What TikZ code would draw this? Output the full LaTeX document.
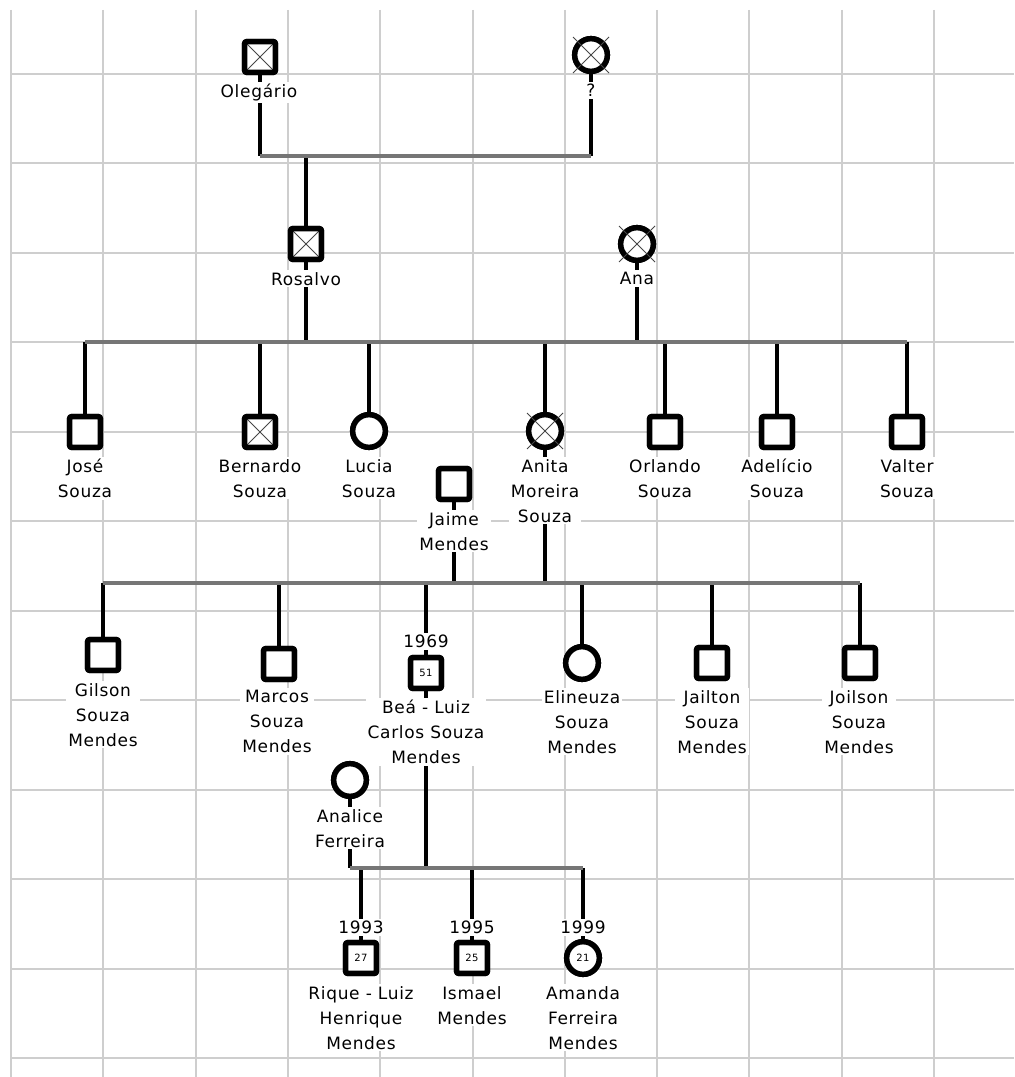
\documentclass[tikz,border=0pt]{standalone}
\usepackage{fontspec}
\newfontfamily\lblfont[LetterSpace=4]{DejaVu Sans}
\definecolor{gridc}{RGB}{206,206,206}
\definecolor{sibc}{RGB}{118,118,118}
\definecolor{xcol}{RGB}{70,70,70}
\tikzset{
  gridl/.style={gridc, line width=1.5pt},
  bline/.style={black, line width=3pt},
  gline/.style={sibc, line width=3pt},
  sq/.style={rectangle, draw, line width=4.1pt, fill=white, rounded corners=1.5pt, minimum size=23pt, inner sep=0pt},
  ci/.style={circle, draw, line width=4.1pt, fill=white, minimum size=24.5pt, inner sep=0pt},
  deadsq/.style={path picture={\draw[xcol, line width=0.75pt] (path picture bounding box.north west) -- (path picture bounding box.south east) (path picture bounding box.north east) -- (path picture bounding box.south west);}},
  xl/.style={xcol, line width=0.75pt},
  lbl/.style={font=\lblfont\fontsize{12.75pt}{18.75pt}\selectfont, align=center, fill=white, inner sep=1.5pt, anchor=north},
  age/.style={font=\lblfont\fontsize{7.5pt}{8pt}\selectfont}
}
\begin{document}
\begin{tikzpicture}[x=0.75pt,y=-0.75pt]
\useasboundingbox (0,0) rectangle (1014,1077);
\fill[white] (0,0) rectangle (1014,1077);
% grid
\foreach \i in {0,...,10} \draw[gridl] ({11+92.3*\i},10) -- ({11+92.3*\i},1077);
\foreach \j in {0,...,11} \draw[gridl] (11,{74+89.45*\j}) -- (1014,{74+89.45*\j});

% family line junctions
\coordinate (m1L) at (260,156); \coordinate (m1R) at (591,156); \coordinate (m1D) at (306,156);
\coordinate (s2L) at (85,342); \coordinate (s2R) at (907,342);
\coordinate (s2a) at (306,342); \coordinate (s2b) at (637,342);
\coordinate (s3L) at (103,583); \coordinate (s3R) at (860,583);
\coordinate (s3a) at (454,583); \coordinate (s3b) at (545,583);
\coordinate (s4L) at (350,868); \coordinate (s4R) at (583,868);
\coordinate (s4b) at (426,868);

% symbol positions
\node[sq,deadsq] (ole) at (260,57) {};
\node[ci] (qm) at (591,55) {};
\node[sq,deadsq] (ros) at (306,244) {};
\node[ci] (ana) at (637,244) {};
\node[sq] (jose) at (85,432) {};
\node[sq,deadsq] (bern) at (260,432) {};
\node[ci] (lucia) at (369,431) {};
\node[ci] (anita) at (545,431) {};
\node[sq] (orl) at (665,432) {};
\node[sq] (adel) at (777,432) {};
\node[sq] (valt) at (907,432) {};
\node[sq] (jaime) at (454,484) {};
\node[sq] (gil) at (103,655) {};
\node[sq] (mar) at (279,664) {};
\node[sq] (bea) at (426,673) {};
\node[ci] (elin) at (582,663) {};
\node[sq] (jail) at (712,663) {};
\node[sq] (joil) at (860,663) {};
\node[ci] (anal) at (350,780) {};
\node[sq] (riq) at (361,958) {};
\node[sq] (ism) at (472,958) {};
\node[ci] (ama) at (583,958) {};

% black connector lines
\draw[bline] (ole.south) -- (m1L);
\draw[bline] (qm.south) -- (m1R);
\draw[bline] (m1D) -- (ros.north);
\draw[bline] (ros.south) -- (s2a);
\draw[bline] (ana.south) -- (s2b);
\foreach \n in {jose,bern,lucia,anita,orl,adel,valt}
  \draw[bline] (\n.north |- s2L) -- (\n.north);
\draw[bline] (jaime.south) -- (s3a);
\draw[bline] (anita.south) -- (s3b);
\foreach \n in {gil,mar,bea,elin,jail,joil}
  \draw[bline] (\n.north |- s3L) -- (\n.north);
\draw[bline] (anal.south) -- (s4L);
\draw[bline] (bea.south) -- (s4b);
\foreach \n in {riq,ism,ama}
  \draw[bline] (\n.north |- s4L) -- (\n.north);

% grey couple / sibship lines
\draw[gline] (m1L) -- (m1R);
\draw[gline] (s2L) -- (s2R);
\draw[gline] (s3L) -- (s3R);
\draw[gline] (s4L) -- (s4R);

% symbols drawn again over the connector ends
\node[sq,deadsq] at (ole) {};
\node[ci] at (qm) {};
\node[sq,deadsq] at (ros) {};
\node[ci] at (ana) {};
\node[sq] at (jose) {};
\node[sq,deadsq] at (bern) {};
\node[ci] at (lucia) {};
\node[ci] at (anita) {};
\node[sq] at (orl) {};
\node[sq] at (adel) {};
\node[sq] at (valt) {};
\node[sq] at (jaime) {};
\node[sq] at (gil) {};
\node[sq] at (mar) {};
\node[sq,age] at (bea) {51};
\node[ci] at (elin) {};
\node[sq] at (jail) {};
\node[sq] at (joil) {};
\node[ci] at (anal) {};
\node[sq,age] at (riq) {27};
\node[sq,age] at (ism) {25};
\node[ci,age] at (ama) {21};

% deceased crosses on circles
\foreach \n in {qm,ana,anita}{
  \draw[xl] (\n.center) ++(-18,-18) -- ++(36,36);
  \draw[xl] (\n.center) ++(18,-18) -- ++(-36,36);
}

% labels
\node[lbl] (oleL) at (259,82) {Olegário};
\node[lbl] (qmL) at (591,82) {?};
\node[lbl] (rosL) at (306,270) {Rosalvo};
\node[lbl] (anaL) at (637,270) {Ana};
\node[lbl] (joseL) at (85,457) {José\\Souza};
\node[lbl] (bernL) at (260,457) {Bernardo\\Souza};
\node[lbl] (luciaL) at (369,457) {Lucia\\Souza};
\node[lbl] (anitaL) at (545,457) {Anita\\Moreira\\Souza};
\node[lbl] (orlL) at (665,457) {Orlando\\Souza};
\node[lbl] (adelL) at (777,457) {Adelício\\Souza};
\node[lbl] (valtL) at (907,457) {Valter\\Souza};
\node[lbl] (jaimeL) at (454,510) {Jaime\\Mendes};
\node[lbl] (gilL) at (103,681) {Gilson\\Souza\\Mendes};
\node[lbl] (marL) at (277,688) {Marcos\\Souza\\Mendes};
\node[lbl] (beaY) at (426,633) {1969};
\node[lbl] (beaL) at (426,698) {Beá - Luiz\\Carlos Souza\\Mendes};
\node[lbl] (elinL) at (582,688) {Elineuza\\Souza\\Mendes};
\node[lbl] (jailL) at (712,688) {Jailton\\Souza\\Mendes};
\node[lbl] (joilL) at (859,688) {Joilson\\Souza\\Mendes};
\node[lbl] (analL) at (350,807) {Analice\\Ferreira};
\node[lbl] (riqY) at (361,919) {1993};
\node[lbl] (ismY) at (472,919) {1995};
\node[lbl] (amaY) at (583,919) {1999};
\node[lbl] (riqL) at (361,984) {Rique - Luiz\\Henrique\\Mendes};
\node[lbl] (ismL) at (472,984) {Ismael\\Mendes};
\node[lbl] (amaL) at (583,984) {Amanda\\Ferreira\\Mendes};
\end{tikzpicture}
\end{document}
